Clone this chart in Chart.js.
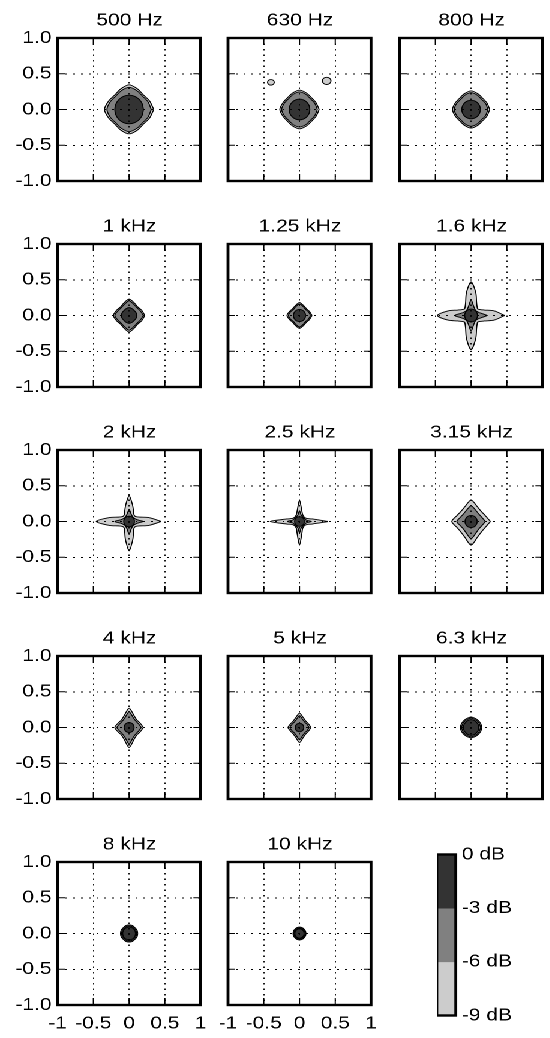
<!DOCTYPE html>
<html>
<head>
<meta charset="utf-8">
<script src="https://cdn.jsdelivr.net/npm/chart.js@4.4.0/dist/chart.umd.min.js"></script>
<style>
body { margin: 0; background: #fff; width: 550px; height: 1038px; overflow: hidden; }
#wrap { position: absolute; left: 0; top: 0; height: 1038px; transform-origin: 0 0; }
canvas { position: absolute; }
</style>
</head>
<body>
<div id="wrap"></div>
<script>
// panel titles
const titles = ['500 Hz', '630 Hz', '800 Hz', '1 kHz', '1.25 kHz', '1.6 kHz', '2 kHz', '2.5 kHz',
    '3.15 kHz', '4 kHz', '5 kHz', '6.3 kHz', '8 kHz', '10 kHz']

// contour radii, read at equal angle steps counter-clockwise from +x
// -9 dB contour
const level9 = [
    [.345, .31, .285, .31, .345, .31, .285, .31, .345, .31, .285, .31, .34, .31, .285, .31],
    [.275, .25, .235, .25, .27, .25, .235, .25, .275, .25, .235, .25, .27, .25, .235, .25],
    [.26, .24, .225, .24, .26, .24, .225, .24, .26, .24, .225, .24, .26, .24, .225, .24],
    [.22, .19, .17, .19, .23, .19, .17, .19, .22, .19, .17, .19, .23, .19, .17, .19],
    [.175, .15, .135, .15, .18, .15, .135, .15, .175, .15, .135, .15, .18, .15, .135, .15],
    [.47, .33, .2, .15, .13, .15, .2, .33, .47, .33, .2, .15, .13, .15, .2, .33,
     .47, .33, .2, .15, .13, .15, .2, .33, .48, .33, .2, .15, .13, .15, .2, .33],
    [.45, .28, .16, .12, .11, .12, .16, .24, .36, .24, .16, .12, .11, .12, .16, .28,
     .46, .28, .16, .12, .11, .12, .16, .26, .41, .26, .16, .12, .11, .12, .16, .28],
    [.40, .18, .11, .095, .09, .095, .11, .16, .30, .16, .11, .095, .09, .095, .11, .18,
     .41, .18, .11, .095, .09, .095, .11, .17, .33, .17, .11, .095, .09, .095, .11, .18],
    [.27, .215, .2, .225, .3, .225, .2, .215, .27, .215, .205, .235, .33, .235, .205, .215],
    [.2, .165, .15, .18, .27, .18, .15, .165, .2, .165, .15, .18, .28, .18, .15, .165],
    [.16, .135, .125, .145, .2, .145, .125, .135, .16, .135, .125, .145, .21, .145, .125, .135],
    [.15, .145, .14, .14, .145, .14, .14, .145, .15, .145, .14, .14, .145, .14, .14, .145],
    [.12, .12, .115, .12, .12, .12, .115, .12, .12, .12, .115, .12, .12, .12, .115, .12],
    [.09, .09, .088, .09, .09, .09, .088, .09, .09, .09, .088, .09, .09, .09, .088, .09]
]
// -6 dB contour
const level6 = [
    [.31, .285, .265, .285, .31, .285, .265, .285, .31, .285, .265, .285, .31, .285, .265, .285],
    [.25, .23, .215, .23, .245, .23, .215, .23, .25, .23, .215, .23, .245, .23, .215, .23],
    [.235, .22, .205, .22, .235, .22, .205, .22, .235, .22, .205, .22, .235, .22, .205, .22],
    [.2, .17, .155, .17, .205, .17, .155, .17, .2, .17, .155, .17, .205, .17, .155, .17],
    [.155, .135, .12, .135, .16, .135, .12, .135, .155, .135, .12, .135, .16, .135, .12, .135],
    [.23, .15, .115, .1, .095, .1, .115, .15, .22, .15, .115, .1, .095, .1, .115, .15,
     .23, .15, .115, .1, .095, .1, .115, .15, .22, .15, .115, .1, .095, .1, .115, .15],
    [.2, .12, .095, .085, .08, .085, .095, .12, .17, .12, .095, .085, .08, .085, .095, .12,
     .2, .12, .095, .085, .08, .085, .095, .12, .18, .12, .095, .085, .08, .085, .095, .12],
    [.17, .1, .085, .08, .075, .08, .085, .1, .15, .1, .085, .08, .075, .08, .085, .1,
     .17, .1, .085, .08, .075, .08, .085, .1, .16, .1, .085, .08, .075, .08, .085, .1],
    [.2, .16, .15, .17, .22, .17, .15, .16, .2, .16, .15, .175, .24, .175, .15, .16],
    [.17, .14, .13, .15, .22, .15, .13, .14, .17, .14, .13, .15, .23, .15, .13, .14],
    [.135, .115, .105, .12, .165, .12, .105, .115, .135, .115, .105, .12, .17, .12, .105, .115],
    [.132, .128, .125, .125, .13, .125, .125, .128, .132, .128, .125, .125, .13, .125, .125, .128],
    [.105, .105, .1, .105, .105, .105, .1, .105, .105, .105, .1, .105, .105, .105, .1, .105],
    [.078, .078, .076, .078, .078, .078, .076, .078, .078, .078, .076, .078, .078, .078, .076, .078]
]
// -3 dB contour
const level3 = [
    [.2, .2, .2, .2, .2, .2, .2, .2, .2, .2, .2, .2, .2, .2, .2, .2],
    [.145, .145, .145, .145, .145, .145, .145, .145, .145, .145, .145, .145, .145, .145, .145, .145],
    [.13, .13, .13, .13, .13, .13, .13, .13, .13, .13, .13, .13, .13, .13, .13, .13],
    [.11, .105, .1, .105, .11, .105, .1, .105, .11, .105, .1, .105, .11, .105, .1, .105],
    [.085, .085, .085, .085, .085, .085, .085, .085, .085, .085, .085, .085, .085, .085, .085, .085],
    [.09, .09, .09, .09, .09, .09, .09, .09, .09, .09, .09, .09, .09, .09, .09, .09],
    [.075, .075, .075, .075, .075, .075, .075, .075, .075, .075, .075, .075, .075, .075, .075, .075],
    [.068, .068, .068, .068, .068, .068, .068, .068, .068, .068, .068, .068, .068, .068, .068, .068],
    [.085, .085, .085, .085, .085, .085, .085, .085, .085, .085, .085, .085, .085, .085, .085, .085],
    [.07, .07, .07, .07, .07, .07, .07, .07, .07, .07, .07, .07, .07, .07, .07, .07],
    [.06, .06, .06, .06, .06, .06, .06, .06, .06, .06, .06, .06, .06, .06, .06, .06],
    [.11, .108, .105, .108, .11, .108, .105, .108, .11, .108, .105, .108, .11, .108, .105, .108],
    [.09, .09, .09, .09, .09, .09, .09, .09, .09, .09, .09, .09, .09, .09, .09, .09],
    [.065, .065, .065, .065, .065, .065, .065, .065, .065, .065, .065, .065, .065, .065, .065, .065]
]

// small side lobes in the 630 Hz panel
const lobeX = [-0.40, 0.38]
const lobeY = [0.38, 0.40]

// colour bar
const barLevels = [0, -3, -6, -9]
const grays = ['#333333', '#808080', '#cccccc']

// the figure is stretched horizontally
const S = 1.2
const FONT = { family: '"Liberation Sans", Arial, sans-serif', size: 17.5 }
const boxLefts = [57, 228, 399]
const boxTops = [38, 244, 450, 656, 862]
const boxSize = 143
const M = 44

const wrap = document.getElementById('wrap')
wrap.style.width = (550 / S) + 'px'
wrap.style.transform = 'scaleX(' + S + ')'

const frame = {
    id: 'frame',
    afterDraw(chart) {
        const {ctx, chartArea: a, scales} = chart
        ctx.save()
        ctx.strokeStyle = '#000'
        if (chart.config.type === 'scatter') {
            ctx.lineWidth = 1
            ctx.beginPath()
            for (const t of scales.x.ticks) {
                if (Math.abs(t.value) >= 1) continue
                const px = scales.x.getPixelForValue(t.value)
                ctx.moveTo(px, a.top); ctx.lineTo(px, a.top + 7)
                ctx.moveTo(px, a.bottom); ctx.lineTo(px, a.bottom - 7)
            }
            for (const t of scales.y.ticks) {
                if (Math.abs(t.value) >= 1) continue
                const py = scales.y.getPixelForValue(t.value)
                ctx.moveTo(a.left, py); ctx.lineTo(a.left + 6, py)
                ctx.moveTo(a.right, py); ctx.lineTo(a.right - 6, py)
            }
            ctx.stroke()
        }
        ctx.lineWidth = 2.4
        ctx.strokeRect(a.left, a.top, a.right - a.left, a.bottom - a.top)
        ctx.restore()
    }
}

function ring(radii) {
    const n = radii.length
    const pts = radii.map((r, i) => ({
        x: r * Math.cos(2 * Math.PI * i / n),
        y: r * Math.sin(2 * Math.PI * i / n)
    }))
    pts.push(pts[0])
    return pts
}

function contourSet(radii, color) {
    return {
        data: ring(radii),
        showLine: true,
        fill: 'shape',
        backgroundColor: color,
        borderColor: '#000',
        borderWidth: 0.9,
        pointRadius: 0,
        tension: 0.3
    }
}

function addCanvas(left, top, width, height) {
    const c = document.createElement('canvas')
    c.width = width
    c.height = height
    c.style.left = left + 'px'
    c.style.top = top + 'px'
    c.style.width = width + 'px'
    c.style.height = height + 'px'
    wrap.appendChild(c)
    return c
}

const gridColor = c => (c.tick && Math.abs(c.tick.value) < 1) ? '#000' : 'rgba(0,0,0,0)'
const titleH = FONT.size * 1.2 + 7

titles.forEach((title, i) => {
    const row = Math.floor(i / 3), col = i % 3
    const boxW = boxSize / S
    const left = boxLefts[col] / S - M
    const top = boxTops[row] - 38
    const width = Math.ceil(boxW + 2 * M)
    const canvas = addCanvas(left, top, width, 38 + boxSize + 34)

    const datasets = [
        contourSet(level3[i], grays[0]),
        contourSet(level6[i], grays[1]),
        contourSet(level9[i], grays[2])
    ]
    if (i === 1) {
        datasets.unshift({
            data: lobeX.map((x, k) => ({x: x, y: lobeY[k]})),
            showLine: false,
            pointRadius: [2.8, 3.6],
            pointBackgroundColor: grays[2],
            pointBorderColor: '#000',
            pointBorderWidth: 0.9
        })
    }

    new Chart(canvas, {
        type: 'scatter',
        data: { datasets: datasets },
        options: {
            responsive: false,
            animation: false,
            devicePixelRatio: 2,
            layout: { padding: { left: 0, right: 0, top: 38 - titleH, bottom: 0 } },
            plugins: {
                legend: { display: false },
                tooltip: { enabled: false },
                title: {
                    display: true, text: title, color: '#000',
                    font: { family: FONT.family, size: FONT.size, weight: 'normal' },
                    padding: { top: 0, bottom: 7 }
                }
            },
            scales: {
                x: {
                    min: -1, max: 1,
                    ticks: {
                        stepSize: 0.5, display: row === 4, color: '#000', font: FONT,
                        padding: 8, autoSkip: false, maxRotation: 0,
                        callback: v => String(v)
                    },
                    grid: { color: gridColor, lineWidth: 0.9, drawTicks: false, z: 1 },
                    border: { display: false, dash: [1.5, 4] },
                    afterFit: s => { s.height = 34 }
                },
                y: {
                    min: -1, max: 1,
                    ticks: {
                        stepSize: 0.5, display: col === 0, color: '#000', font: FONT,
                        padding: 5, callback: v => v.toFixed(1)
                    },
                    grid: { color: gridColor, lineWidth: 1, drawTicks: false, z: 1 },
                    border: { display: false, dash: [1.5, 5] },
                    afterFit: s => { s.width = M }
                },
                // empty right axis keeps the box centred under the title
                y2: {
                    position: 'right', min: -1, max: 1,
                    ticks: { display: false },
                    grid: { display: false, drawTicks: false },
                    border: { display: false },
                    afterFit: s => { s.width = width - M - boxW }
                }
            }
        },
        plugins: [frame]
    })
})

// colour bar
const cbLeft = 437 / S, cbW = 19 / S
const cbCanvas = addCanvas(cbLeft, 839, Math.ceil(cbW + 80), 192)
new Chart(cbCanvas, {
    type: 'bar',
    data: {
        labels: [''],
        datasets: grays.map((g, k) => ({
            data: [[barLevels[k + 1], barLevels[k]]],
            backgroundColor: g,
            borderWidth: 0,
            grouped: false,
            barPercentage: 1,
            categoryPercentage: 1
        }))
    },
    options: {
        responsive: false,
        animation: false,
        devicePixelRatio: 2,
        layout: { padding: { top: 10, bottom: 10, left: 0, right: 0 } },
        plugins: { legend: { display: false }, tooltip: { enabled: false } },
        scales: {
            x: { display: false },
            y: {
                position: 'right', min: -9, max: 0,
                ticks: { stepSize: 3, color: '#000', font: FONT, padding: 5, callback: v => v + ' dB' },
                grid: { display: false, drawTicks: false },
                border: { display: false },
                afterFit: s => { s.width = Math.ceil(cbW + 80) - cbW }
            }
        }
    },
    plugins: [frame]
})
</script>
</body>
</html>
